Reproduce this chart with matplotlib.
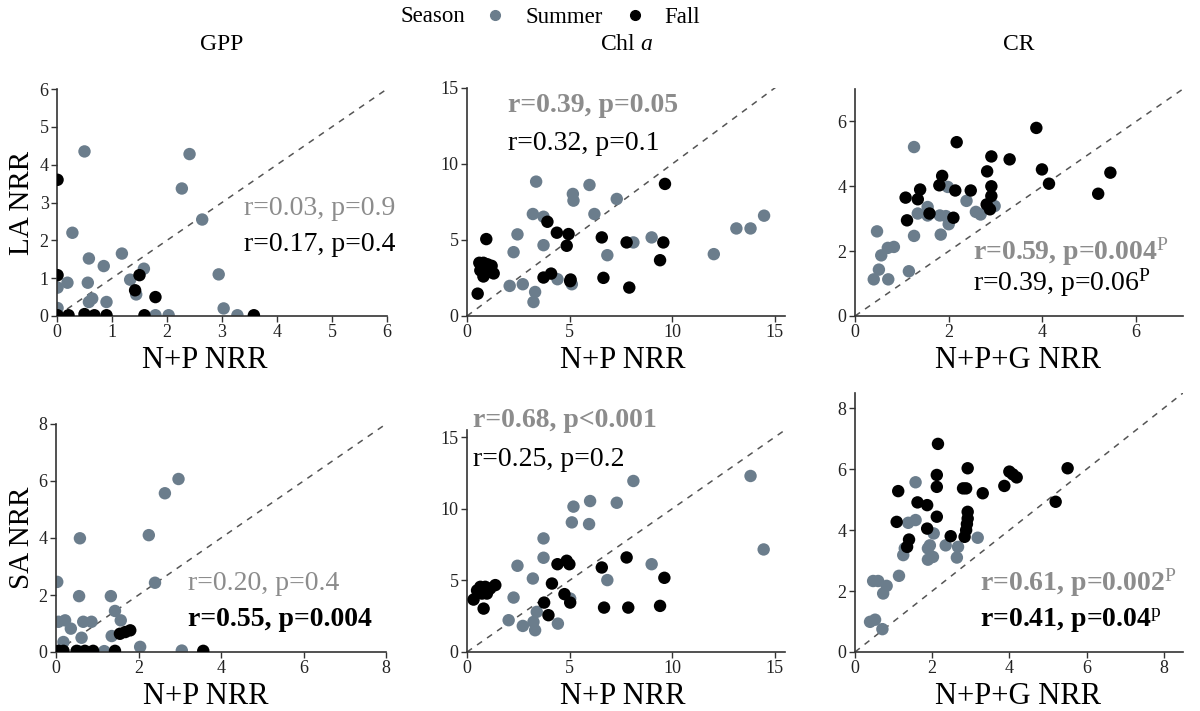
import matplotlib
matplotlib.use("Agg")
import matplotlib.pyplot as plt
from matplotlib.lines import Line2D

plt.rcParams['font.family'] = ['Liberation Serif', 'DejaVu Serif']
plt.rcParams['mathtext.fontset'] = 'custom'
plt.rcParams['mathtext.rm'] = 'Liberation Serif'
plt.rcParams['mathtext.it'] = 'Liberation Serif:italic'
plt.rcParams['mathtext.bf'] = 'Liberation Serif:bold'

SUMMER_C = '#6b7d8c'
FALL_C = '#000000'
GRAY_TXT = '#8c8c8c'

# ---------------- data ----------------
# Panel 1: GPP, LA
gpp_la_sum_x = [0.50, 2.41, 2.27, 2.64, 0.28, 1.18, 0.58, 0.85, 1.58, 1.33, 0.19, 0.56, 2.94, 0.01,
                1.44, 0.64, 0.58, 0.90, 3.03, 0.01, 1.79, 2.03, 3.28]
gpp_la_sum_y = [4.35, 4.28, 3.37, 2.55, 2.20, 1.65, 1.52, 1.32, 1.25, 0.96, 0.88, 0.88, 1.10, 0.75,
                0.57, 0.46, 0.37, 0.37, 0.20, 0.21, 0.02, 0.02, 0.02]
gpp_la_fall_x = [0.01, 0.01, 1.50, 1.42, 1.79, 0.01, 0.21, 0.50, 0.68, 0.90, 1.59, 3.58]
gpp_la_fall_y = [3.60, 1.08, 1.08, 0.68, 0.50, 0.02, 0.02, 0.05, 0.02, 0.02, 0.02, 0.02]

# Panel 2: Chl a, LA
chl_la_sum_x = [3.37, 5.97, 5.16, 5.19, 7.30, 3.21, 3.73, 6.21, 14.48, 13.13, 13.82, 2.46, 2.27, 3.73,
                9.00, 8.11, 6.84, 12.03, 4.41, 2.08, 2.72, 5.11, 3.32, 3.24]
chl_la_sum_y = [8.84, 8.62, 8.03, 7.59, 7.70, 6.71, 6.53, 6.71, 6.60, 5.76, 5.76, 5.37, 4.20, 4.66,
                5.17, 4.84, 4.00, 4.07, 2.42, 1.98, 2.09, 2.09, 1.58, 0.92]
chl_la_fall_x = [0.94, 9.65, 3.92, 4.38, 4.95, 4.86, 6.57, 7.78, 9.57, 9.41, 4.10, 3.73, 5.03, 6.65,
                 7.91, 0.52, 0.60, 0.80, 1.00, 1.20, 0.65, 0.90, 1.30, 0.80, 1.10, 0.70, 5.05]
chl_la_fall_y = [5.06, 8.69, 6.20, 5.48, 5.39, 4.62, 5.17, 4.84, 4.84, 3.67, 2.79, 2.53, 2.29, 2.51,
                 1.87, 1.47, 3.50, 3.50, 3.40, 3.30, 3.00, 3.10, 2.80, 2.60, 2.90, 3.30, 2.40]

# Panel 3: CR, LA
cr_la_sum_x = [1.26, 0.47, 0.56, 0.70, 0.83, 0.51, 0.40, 0.71, 1.15, 1.26, 1.83, 1.34, 1.55, 1.55,
               1.81, 1.94, 2.00, 1.98, 2.38, 2.58, 2.68, 2.98]
cr_la_sum_y = [5.21, 2.61, 1.87, 2.10, 2.13, 1.43, 1.13, 1.13, 1.38, 2.47, 2.51, 3.16, 3.36, 3.10,
               3.10, 3.08, 2.83, 3.98, 3.55, 3.21, 3.13, 3.39]
cr_la_fall_x = [2.17, 3.87, 2.91, 3.30, 3.99, 5.45, 2.82, 1.86, 1.80, 2.14, 2.47, 1.39, 1.08, 1.34,
                4.14, 2.91, 2.91, 2.81, 2.88, 5.19, 1.11, 1.59, 2.10]
cr_la_fall_y = [5.36, 5.80, 4.92, 4.83, 4.52, 4.42, 4.46, 4.32, 4.03, 3.87, 3.87, 3.90, 3.65, 3.60,
                4.08, 4.00, 3.70, 3.44, 3.29, 3.77, 2.95, 3.16, 3.03]

# Panel 4: GPP, SA
gpp_sa_sum_x = [2.97, 2.64, 2.25, 0.58, 2.40, 0.03, 0.56, 1.33, 1.43, 1.57, 0.22, 0.06, 0.36, 0.66,
                0.86, 0.62, 1.35, 0.18, 2.04, 0.54, 3.05, 1.17]
gpp_sa_sum_y = [6.07, 5.57, 4.10, 3.99, 2.43, 2.46, 1.96, 1.96, 1.44, 1.11, 1.11, 1.06, 0.82, 1.06,
                1.06, 0.50, 0.56, 0.35, 0.18, 0.03, 0.05, 0.03]
gpp_sa_fall_x = [1.55, 1.68, 1.80, 0.06, 0.18, 0.50, 0.70, 0.90, 1.43, 3.57]
gpp_sa_fall_y = [0.64, 0.70, 0.76, 0.04, 0.04, 0.04, 0.04, 0.04, 0.04, 0.04]

# Panel 5: Chl a, SA
chl_sa_sum_x = [13.82, 8.11, 6.00, 7.30, 5.19, 5.11, 5.95, 3.73, 3.73, 14.46, 2.46, 9.00, 3.21, 6.84,
                2.27, 5.03, 2.03, 2.72, 3.32, 3.40, 3.24, 4.43]
chl_sa_sum_y = [12.29, 11.94, 10.54, 10.42, 10.15, 9.05, 8.93, 7.93, 6.58, 7.16, 6.02, 6.13, 5.13, 5.02,
                3.80, 3.73, 2.22, 1.82, 1.52, 2.80, 2.10, 1.98]
chl_sa_fall_x = [7.78, 6.57, 4.41, 4.86, 4.99, 4.14, 9.62, 4.75, 5.03, 3.76, 3.97, 6.68, 7.86, 9.41,
                 0.32, 0.65, 0.89, 1.13, 1.38, 0.73, 0.97, 0.81, 0.49]
chl_sa_fall_y = [6.60, 5.90, 6.13, 6.37, 6.13, 4.78, 5.18, 4.04, 3.45, 3.45, 2.57, 3.10, 3.10, 3.22,
                 3.66, 4.55, 4.55, 4.43, 4.67, 4.08, 4.08, 3.03, 4.30]

# Panel 6: CR, SA
cr_sa_sum_x = [1.57, 1.38, 1.57, 1.29, 1.25, 2.04, 1.94, 1.89, 2.35, 2.67, 3.18, 1.89, 2.02, 2.64,
               1.14, 0.47, 0.60, 0.82, 0.73, 0.39, 0.52, 0.71]
cr_sa_sum_y = [5.57, 4.24, 4.33, 3.40, 3.18, 3.89, 3.50, 3.40, 3.50, 3.45, 3.75, 3.03, 3.12, 3.10,
               2.50, 2.33, 2.33, 2.17, 1.92, 0.99, 1.06, 0.75]
cr_sa_fall_x = [2.15, 2.92, 5.51, 4.00, 4.09, 4.19, 3.87, 2.12, 2.12, 1.12, 2.80, 2.88, 3.31, 5.20,
                1.62, 1.87, 2.12, 1.08, 1.87, 2.92, 2.92, 2.90, 2.88, 2.84, 2.48, 1.40, 1.35]
cr_sa_fall_y = [6.83, 6.03, 6.03, 5.92, 5.83, 5.73, 5.45, 5.81, 5.42, 5.28, 5.37, 5.37, 5.21, 4.93,
                4.91, 4.82, 4.44, 4.27, 4.05, 4.60, 4.38, 4.20, 4.00, 3.78, 3.80, 3.69, 3.45]

titles = ['GPP', r'Chl $\mathit{a}$', 'CR']
ylabels = ['LA NRR', 'SA NRR']
xlabels = ['N+P NRR', 'N+P NRR', 'N+P+G NRR']

panels = [
    dict(sx=gpp_la_sum_x, sy=gpp_la_sum_y, fx=gpp_la_fall_x, fy=gpp_la_fall_y,
         xlim=6, ylim=6, xt=[0, 1, 2, 3, 4, 5, 6], yt=[0, 1, 2, 3, 4, 5, 6],
         box=(57, 387, 89, 316), xlc=205,
         g=('r=0.03, p=0.9', 'normal', 395, 208, 'right'),
         b=('r=0.17, p=0.4', 'normal', 395, 245, 'right')),
    dict(sx=chl_la_sum_x, sy=chl_la_sum_y, fx=chl_la_fall_x, fy=chl_la_fall_y,
         xlim=15.5, ylim=15, xt=[0, 5, 10, 15], yt=[0, 5, 10, 15],
         box=(467, 785, 88, 316), xlc=623,
         g=('r=0.39, p=0.05', 'bold', 508, 105, 'left'),
         b=('r=0.32, p=0.1', 'normal', 508, 143, 'left')),
    dict(sx=cr_la_sum_x, sy=cr_la_sum_y, fx=cr_la_fall_x, fy=cr_la_fall_y,
         xlim=7, ylim=7, xt=[0, 2, 4, 6], yt=[0, 2, 4, 6],
         box=(855, 1183, 89, 316), xlc=1018,
         g=(r'r=0.59, p=0.004$^{\mathrm{P}}$', 'bold', 973, 252, 'left'),
         b=(r'r=0.39, p=0.06$^{\mathrm{P}}$', 'normal', 973, 283, 'left')),
    dict(sx=gpp_sa_sum_x, sy=gpp_sa_sum_y, fx=gpp_sa_fall_x, fy=gpp_sa_fall_y,
         xlim=8, ylim=8, xt=[0, 2, 4, 6, 8], yt=[0, 2, 4, 6, 8],
         box=(56, 386, 424, 652), xlc=206,
         g=('r=0.20, p=0.4', 'normal', 188, 583, 'left'),
         b=('r=0.55, p=0.004', 'bold', 188, 620, 'left')),
    dict(sx=chl_sa_sum_x, sy=chl_sa_sum_y, fx=chl_sa_fall_x, fy=chl_sa_fall_y,
         xlim=15.5, ylim=15.5, xt=[0, 5, 10, 15], yt=[0, 5, 10, 15],
         box=(467, 785, 430, 652), xlc=623,
         g=('r=0.68, p<0.001', 'bold', 473, 421, 'left'),
         b=('r=0.25, p=0.2', 'normal', 473, 460, 'left')),
    dict(sx=cr_sa_sum_x, sy=cr_sa_sum_y, fx=cr_sa_fall_x, fy=cr_sa_fall_y,
         xlim=8.5, ylim=8.5, xt=[0, 2, 4, 6, 8], yt=[0, 2, 4, 6, 8],
         box=(855, 1183, 393, 652), xlc=1018,
         g=(r'r=0.61, p=0.002$^{\mathrm{P}}$', 'bold', 980, 583, 'left'),
         b=(r'r=0.41, p=0.04$^{\mathrm{p}}$', 'bold', 980, 621, 'left')),
]

W, H = 1200, 711
fig = plt.figure(figsize=(12, 7.11), dpi=100)

for i, p in enumerate(panels):
    l, r, t, b = p['box']
    wpx, hpx = r - l, b - t
    ax = fig.add_axes([l / W, 1 - b / H, wpx / W, hpx / H])
    lim = max(p['xlim'], p['ylim'])
    ax.plot([0, lim], [0, lim], ls=(0, (4, 4)), color='#555555', lw=1.1, zorder=1)
    ax.scatter(p['sx'], p['sy'], s=80, color=SUMMER_C, edgecolors='none', zorder=2)
    ax.scatter(p['fx'], p['fy'], s=80, color=FALL_C, edgecolors='none', zorder=3)
    ax.set_xlim(0, p['xlim'])
    ax.set_ylim(0, p['ylim'])
    ax.set_xticks(p['xt'])
    ax.set_yticks(p['yt'])
    for s in ['top', 'right']:
        ax.spines[s].set_visible(False)
    for s in ['left', 'bottom']:
        ax.spines[s].set_color('#333333')
        ax.spines[s].set_linewidth(1.2)
    ax.tick_params(axis='both', labelsize=13, length=4, width=1, color='#333333',
                   labelcolor='#222222', pad=2)
    row, col = divmod(i, 3)
    if row == 0:
        fig.text((l + r) / 2 / W, 1 - 45 / H, titles[col], fontsize=17,
                 ha='center', va='center')
    if col == 0:
        ax.set_ylabel(ylabels[row], fontsize=21)
        ax.yaxis.label.set_va('center')
        ax.yaxis.set_label_coords(-(l - 22) / wpx, 0.5)
    ax.set_xlabel(xlabels[col], fontsize=22)
    ax.xaxis.label.set_va('center')
    ax.xaxis.set_label_coords((p['xlc'] - l) / wpx, -45 / hpx)
    gt, gw, gx, gy, gha = p['g']
    bt, bw, bx, by, bha = p['b']
    fig.text(gx / W, 1 - gy / H, gt, color=GRAY_TXT, fontsize=20, fontweight=gw,
             ha=gha, va='center')
    fig.text(bx / W, 1 - by / H, bt, color='black', fontsize=20, fontweight=bw,
             ha=bha, va='center')

# legend
fig.text(400 / W, 1 - 17 / H, 'Season', fontsize=16.5, ha='left', va='center')
handles = [Line2D([], [], ls='none', marker='o', markersize=7, color=SUMMER_C),
           Line2D([], [], ls='none', marker='o', markersize=7, color=FALL_C)]
fig.legend(handles, ['Summer', 'Fall'], loc='center', bbox_to_anchor=(592 / W, 1 - 17 / H),
           ncol=2, frameon=False, fontsize=16.5, handlelength=1.0, handletextpad=0.8,
           columnspacing=0.9, borderaxespad=0, borderpad=0)

fig.savefig('out.png', dpi=100)
